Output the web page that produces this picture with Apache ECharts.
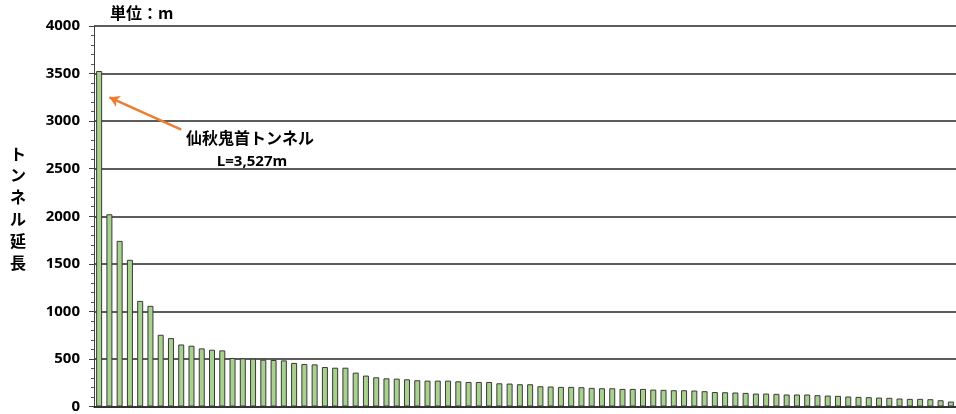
<!DOCTYPE html>
<html>
<head>
<meta charset="utf-8">
<script src="https://cdn.jsdelivr.net/npm/echarts@6/dist/echarts.min.js"></script>
<style>
html,body{margin:0;padding:0;background:#fff;}
#chart{width:956px;height:414px;}
</style>
</head>
<body>
<div id="chart"></div>
<script>
// ---- data ----
const tunnelLengths = [
  3527, 2021, 1741, 1542, 1110, 1058, 754, 719, 652, 639,
  611, 597, 590, 510, 506, 503, 492, 489, 485, 458,
  447, 443, 415, 408, 408, 356, 325, 307, 296, 293,
  286, 276, 272, 272, 272, 265, 258, 258, 258, 244,
  241, 234, 234, 213, 210, 206, 206, 203, 196, 192,
  192, 185, 185, 185, 178, 175, 171, 171, 168, 161,
  152, 150, 147, 143, 136, 136, 133, 126, 126, 126,
  119, 115, 112, 105, 101, 98, 94, 91, 84, 80,
  80, 77, 66, 52
];
const categories = tunnelLengths.map((v, i) => String(i + 1));
const yTicks = [0, 500, 1000, 1500, 2000, 2500, 3000, 3500, 4000];
const axisTitle = 'トンネル延長';
const unitLabel = '単位：m';
const annotName = '仙秋鬼首トンネル';
const annotValue = tunnelLengths[0];

const jpFont = '"Noto Sans CJK JP", sans-serif';
const numFont = '"Open Sans", "Liberation Sans", sans-serif';

const chart = echarts.init(document.getElementById('chart'), null, {renderer: 'canvas'});
chart.setOption({
  animation: false,
  backgroundColor: '#ffffff',
  grid: {left: 94, right: -11, top: 26, bottom: 6, containLabel: false},
  xAxis: {
    type: 'category',
    data: categories,
    boundaryGap: true,
    axisLine: {show: true, lineStyle: {color: '#262626', width: 1.5}},
    axisTick: {show: false},
    axisLabel: {show: false},
    splitLine: {show: false}
  },
  yAxis: {
    type: 'value',
    min: yTicks[0],
    max: yTicks[yTicks.length - 1],
    interval: yTicks[1] - yTicks[0],
    axisLine: {show: true, lineStyle: {color: '#404040', width: 1}},
    axisTick: {show: true, length: 5, lineStyle: {color: '#404040'}},
    minorTick: {show: true, splitNumber: 5, length: 3, lineStyle: {color: '#595959'}},
    axisLabel: {
      color: '#000', fontWeight: 'bold', fontSize: 15, fontFamily: numFont, margin: 14,
      formatter: v => String(v)
    },
    splitLine: {show: true, lineStyle: {color: '#262626', width: 1.5}}
  },
  series: [{
    type: 'bar',
    data: tunnelLengths,
    barWidth: 6,
    itemStyle: {color: '#a9d18e', borderColor: '#3a3a3a', borderWidth: 1},
    markLine: {
      silent: true,
      symbol: ['none', 'arrow'],
      symbolSize: [9, 10],
      label: {show: false},
      lineStyle: {color: '#ed7d31', width: 2.5, type: 'solid'},
      data: [[{coord: [8, 2910]}, {coord: [1, 3250]}]]
    }
  }],
  graphic: [
    {
      type: 'text', left: 110, top: 5,
      style: {text: unitLabel, fill: '#000', fontSize: 16, fontWeight: 'bold', fontFamily: jpFont}
    },
    {
      type: 'text', x: 18, y: 208,
      style: {
        text: axisTitle.split('').join('\n'), fill: '#000',
        fontSize: 16, fontWeight: 'bold', fontFamily: jpFont, lineHeight: 21.8,
        align: 'center', verticalAlign: 'middle'
      }
    },
    {
      type: 'text', x: 250, y: 138,
      style: {text: annotName, fill: '#000', fontSize: 16, fontWeight: 'bold', fontFamily: jpFont,
        align: 'center', verticalAlign: 'middle'}
    },
    {
      type: 'text', x: 252, y: 162,
      style: {text: 'L=' + annotValue.toLocaleString('en-US') + 'm', fill: '#000',
        fontSize: 15, fontWeight: 'bold', fontFamily: numFont, align: 'center', verticalAlign: 'middle'}
    }
  ]
});
</script>
</body>
</html>
